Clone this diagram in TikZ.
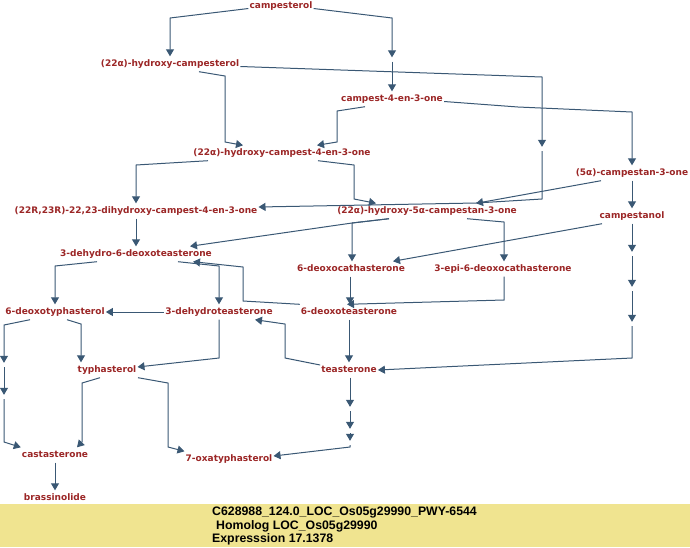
\documentclass[tikz,border=0pt]{standalone}
\usepackage{fontspec}
\setmainfont{Liberation Sans}
\newfontfamily\cpdfont{DejaVu Sans}
\usetikzlibrary{arrows.meta}
\definecolor{cpdred}{RGB}{155,38,38}
\definecolor{rxnline}{RGB}{58,88,116}
\definecolor{infobg}{RGB}{240,228,144}

\begin{document}
\begin{tikzpicture}[x=1pt, y=-1pt, >={Triangle[width=8pt,length=7pt]},
    cpd/.style={text=cpdred, font=\cpdfont\bfseries\fontsize{9}{10}\selectfont, text height=7pt, text depth=2pt, inner xsep=1pt, inner ysep=3pt},
    hid/.style={inner sep=0pt, minimum size=4pt},
    rxn/.style={->, draw=rxnline, line width=1pt},
    info/.style={anchor=base west, inner sep=0pt, font=\bfseries\fontsize{12.3}{13}\selectfont}]
        \useasboundingbox (0,0) rectangle (690,547);
        \fill [infobg] (0,504) rectangle (690,547);

        % compounds
        \node [cpd] (cs) at (281,6) {campesterol};
        \node [cpd] (hcs) at (170,64) {(22α)-hydroxy-campesterol};
        \node [cpd] (c4) at (392,99) {campest-4-en-3-one};
        \node [cpd] (hc4) at (282,153) {(22α)-hydroxy-campest-4-en-3-one};
        \node [cpd] (c3o) at (632,173) {(5α)-campestan-3-one};
        \node [cpd] (dhc) at (136,211) {(22R,23R)-22,23-dihydroxy-campest-4-en-3-one};
        \node [cpd] (hc3o) at (427,211) {(22α)-hydroxy-5α-campestan-3-one};
        \node [cpd] (cnol) at (632,216) {campestanol};
        \node [cpd] (ddt) at (136,254) {3-dehydro-6-deoxoteasterone};
        \node [cpd] (dca) at (351,269) {6-deoxocathasterone};
        \node [cpd] (edca) at (503,269) {3-epi-6-deoxocathasterone};
        \node [cpd] (dty) at (55,312) {6-deoxotyphasterol};
        \node [cpd] (dte) at (219,312) {3-dehydroteasterone};
        \node [cpd] (dot) at (349,312) {6-deoxoteasterone};
        \node [cpd] (ty) at (107,370) {typhasterol};
        \node [cpd] (te) at (349,370) {teasterone};
        \node [cpd] (ca) at (55,455) {castasterone};
        \node [cpd] (ot) at (229,459) {7-oxatyphasterol};
        \node [cpd] (bl) at (55,498) {brassinolide};

        % hidden steps
        \node [hid] (h1) at (392,59.5) {};
        \node [hid] (h2) at (542,149) {};
        \node [hid] (h3) at (632,254) {};
        \node [hid] (h4) at (632,289) {};
        \node [hid] (h5) at (632,324) {};
        \node [hid] (h6) at (4,365) {};
        \node [hid] (h7) at (4,397) {};
        \node [hid] (h8) at (350,409) {};
        \node [hid] (h9) at (350,431) {};
        \node [hid] (h10) at (350,443) {};

        \draw [rxn] (cs.base west) -- (170,18) -- (hcs);
        \draw [rxn] (cs.base east) -- (392,18) -- (h1);
        \draw [rxn] (h1) -- (c4);
        \draw [rxn] (hcs.base east) -- (542,77) -- (h2);
        \draw [rxn] (h2) -- (542,199) -- (476,203) -- ([yshift=4pt]dhc.east);
        \draw [rxn] (hcs.south -| 199,0) -- (225,76) -- (225,142) -- (hc4.north -| 243,0);
        \draw [rxn] (c4.south -| 365,0) -- (337,111) -- (337,142) -- (hc4.north -| 317,0);
        \draw [rxn] (c4.base east) -- (518,107) -- (632,112) -- (c3o);
        \draw [rxn] (hc4.south -| 208,0) -- (136,165) -- (dhc);
        \draw [rxn] (hc4.south -| 318,0) -- (354,165) -- (354,199) -- (hc3o.north -| 376,0);
        \draw [rxn] (c3o.south -| 601,0) -- (hc3o.north -| 476,0);
        \draw [rxn] (c3o) -- (cnol);
        \draw [rxn] (cnol) -- (h3);
        \draw [rxn] (h3) -- (h4);
        \draw [rxn] (h4) -- (h5);
        \draw [rxn] (h5) -- (632,358) -- (te.east);
        \draw [rxn] (cnol.south -| 602,0) -- (dca.north -| 393,0);
        \draw [rxn] (dhc) -- (ddt);
        \draw [rxn] (hc3o.south -| 389,0) -- (352,223) -- (ddt.north -| 190,0);
        \draw [rxn] (hc3o.south -| 389,0) -- (352,223) -- (dca.north -| 352,0);
        \draw [rxn] (hc3o.south -| 467,0) -- (504,222) -- (edca.north -| 504,0);
        \draw [rxn] (ddt.south -| 97,0) -- (55,266) -- (dty);
        \draw [rxn] (ddt.south -| 178,0) -- (219,266) -- (dte);
        \draw [rxn] (dca.south -| 350,0) -- (dot.north -| 350,0);
        \draw [rxn] (edca.south -| 504,0) -- (504,300) -- (dot.north -| 347,0);
        \draw [rxn] (dot.north west) -- (243,301) -- (243,267) -- (ddt.south -| 193,0);
        \draw [rxn] (dte) -- (dty);
        \draw [rxn] (dte.south -| 219,0) -- (219,358) -- ([yshift=3pt]ty.east);
        \draw [rxn] ([yshift=5pt]te.west) -- (285,358) -- (285,324) -- (dte.south -| 255,0);
        \draw [rxn] (dot) -- (te);
        \draw [rxn] (dty.south -| 30,0) -- (4,325) -- (h6);
        \draw [rxn] (h6) -- (h7);
        \draw [rxn] (h7) -- (4,442) -- (ca.north west);
        \draw [rxn] (dty.south -| 67,0) -- (81,324) -- (ty.north -| 81,0);
        \draw [rxn] (ty.south -| 100,0) -- (82,383) -- (82,442) -- (ca.north -| 77,0);
        \draw [rxn] (ty.south -| 138,0) -- (168,383) -- (168,447) -- (ot.north west);
        \draw [rxn] (te.south -| 350,0) -- (h8);
        \draw [rxn] (h8) -- (h9);
        \draw [rxn] (h9) -- (h10);
        \draw [rxn] (h10) -- (350,447) -- ([yshift=3pt]ot.east);
        \draw [rxn] (ca) -- (bl);

        % gene info
        \node [info] (gene) at (212,515) {C628988\_124.0\_LOC\_Os05g29990\_PWY-6544};
        \node [info] (homolog) at (216,529) {Homolog LOC\_Os05g29990};
        \node [info] (expr) at (212,542) {Expresssion 17.1378};
\end{tikzpicture}
\end{document}
